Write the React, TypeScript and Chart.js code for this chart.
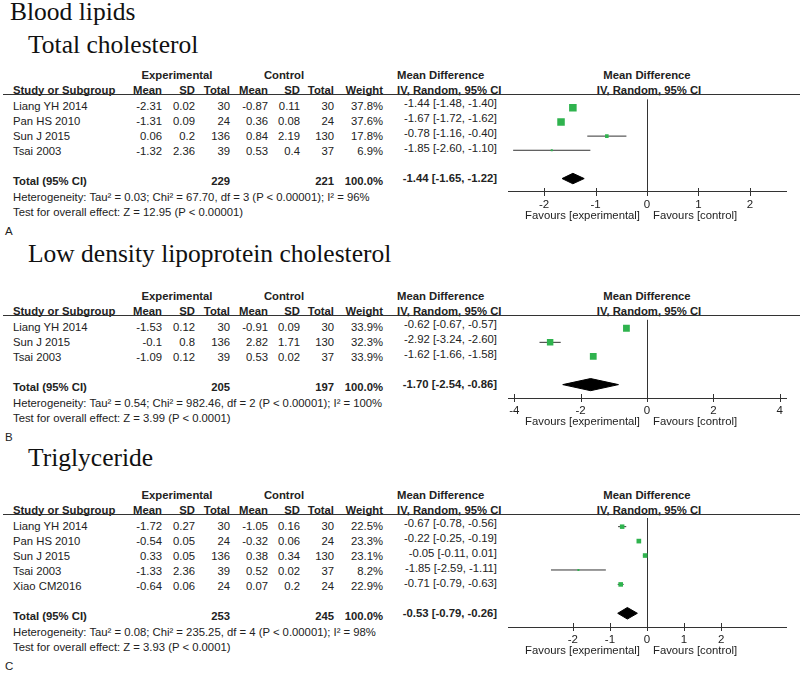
import React, { useEffect, useRef } from "react";
import { Chart, registerables } from "chart.js";

Chart.register(...registerables);

const SANS = "Arial, 'Liberation Sans', Helvetica, sans-serif";
const SERIF = "'Times New Roman', 'Liberation Serif', serif";
const GREEN = "#2fb34e";
const INK = "#222";
const LINE = "#333";

// ---------- Panel A: Total cholesterol ----------
const studiesTC = ["Liang YH 2014", "Pan HS 2010", "Sun J 2015", "Tsai 2003"];
const expMeanTC = [-2.31, -1.31, 0.06, -1.32];
const expSdTC = [0.02, 0.09, 0.2, 2.36];
const expNTC = [30, 24, 136, 39];
const ctlMeanTC = [-0.87, 0.36, 0.84, 0.53];
const ctlSdTC = [0.11, 0.08, 2.19, 0.4];
const ctlNTC = [30, 24, 130, 37];
const weightTC = [37.8, 37.6, 17.8, 6.9];
const mdTC = [-1.44, -1.67, -0.78, -1.85];
const loTC = [-1.48, -1.72, -1.16, -2.6];
const hiTC = [-1.4, -1.62, -0.4, -1.1];
const totalsTC = [229, 221];
const pooledTC = [-1.44, -1.65, -1.22];
const ticksTC = [-2, -1, 0, 1, 2];
const hetTC = "Heterogeneity: Tau² = 0.03; Chi² = 67.70, df = 3 (P < 0.00001); I² = 96%";
const testTC = "Test for overall effect: Z = 12.95 (P < 0.00001)";

// ---------- Panel B: LDL cholesterol ----------
const studiesLDL = ["Liang YH 2014", "Sun J 2015", "Tsai 2003"];
const expMeanLDL = [-1.53, -0.1, -1.09];
const expSdLDL = [0.12, 0.8, 0.12];
const expNLDL = [30, 136, 39];
const ctlMeanLDL = [-0.91, 2.82, 0.53];
const ctlSdLDL = [0.09, 1.71, 0.02];
const ctlNLDL = [30, 130, 37];
const weightLDL = [33.9, 32.3, 33.9];
const mdLDL = [-0.62, -2.92, -1.62];
const loLDL = [-0.67, -3.24, -1.66];
const hiLDL = [-0.57, -2.6, -1.58];
const totalsLDL = [205, 197];
const pooledLDL = [-1.7, -2.54, -0.86];
const ticksLDL = [-4, -2, 0, 2, 4];
const hetLDL = "Heterogeneity: Tau² = 0.54; Chi² = 982.46, df = 2 (P < 0.00001); I² = 100%";
const testLDL = "Test for overall effect: Z = 3.99 (P < 0.0001)";

// ---------- Panel C: Triglyceride ----------
const studiesTG = ["Liang YH 2014", "Pan HS 2010", "Sun J 2015", "Tsai 2003", "Xiao CM2016"];
const expMeanTG = [-1.72, -0.54, 0.33, -1.33, -0.64];
const expSdTG = [0.27, 0.05, 0.05, 2.36, 0.06];
const expNTG = [30, 24, 136, 39, 24];
const ctlMeanTG = [-1.05, -0.32, 0.38, 0.52, 0.07];
const ctlSdTG = [0.16, 0.06, 0.34, 0.02, 0.2];
const ctlNTG = [30, 24, 130, 37, 24];
const weightTG = [22.5, 23.3, 23.1, 8.2, 22.9];
const mdTG = [-0.67, -0.22, -0.05, -1.85, -0.71];
const loTG = [-0.78, -0.25, -0.11, -2.59, -0.79];
const hiTG = [-0.56, -0.19, 0.01, -1.11, -0.63];
const totalsTG = [253, 245];
const pooledTG = [-0.53, -0.79, -0.26];
const ticksTG = [-2, -1, 0, 1, 2];
const hetTG = "Heterogeneity: Tau² = 0.08; Chi² = 235.25, df = 4 (P < 0.00001); I² = 98%";
const testTG = "Test for overall effect: Z = 3.93 (P < 0.0001)";

const colHeaders = ["Mean", "SD", "Total", "Mean", "SD", "Total", "Weight"];
const favLeft = "Favours [experimental]";
const favRight = "Favours [control]";

type Panel = {
  title: string;
  label: string;
  studies: string[];
  cols: number[][];
  weight: number[];
  md: number[];
  lo: number[];
  hi: number[];
  totals: number[];
  pooled: number[];
  ticks: number[];
  het: string;
  test: string;
  // layout / style
  headerY: number;
  titleBase: number;
  range: number;
  diamondHalf: number;
};

const panels: Panel[] = [
  {
    title: "Total cholesterol", label: "A", studies: studiesTC,
    cols: [expMeanTC, expSdTC, expNTC, ctlMeanTC, ctlSdTC, ctlNTC],
    weight: weightTC, md: mdTC, lo: loTC, hi: hiTC, totals: totalsTC, pooled: pooledTC,
    ticks: ticksTC, het: hetTC, test: testTC,
    headerY: 94, titleBase: 54, range: 2.7, diamondHalf: 0.37,
  },
  {
    title: "Low density lipoprotein cholesterol", label: "B", studies: studiesLDL,
    cols: [expMeanLDL, expSdLDL, expNLDL, ctlMeanLDL, ctlSdLDL, ctlNLDL],
    weight: weightLDL, md: mdLDL, lo: loLDL, hi: hiLDL, totals: totalsLDL, pooled: pooledLDL,
    ticks: ticksLDL, het: hetLDL, test: testLDL,
    headerY: 315, titleBase: 263, range: 4.19, diamondHalf: 0.43,
  },
  {
    title: "Triglyceride", label: "C", studies: studiesTG,
    cols: [expMeanTG, expSdTG, expNTG, ctlMeanTG, ctlSdTG, ctlNTG],
    weight: weightTG, md: mdTG, lo: loTG, hi: hiTG, totals: totalsTG, pooled: pooledTG,
    ticks: ticksTG, het: hetTG, test: testTG,
    headerY: 514, titleBase: 467, range: 3.75, diamondHalf: 0.4,
  },
];

const ROW = 15;
const AXIS_H = 34;
const COL_RIGHT = [162, 195, 230, 268, 300, 334, 383];
const FS = 11.3;

function T(props: { x: number; y: number; align?: "left" | "right" | "center"; bold?: boolean; size?: number; children: React.ReactNode }) {
  const { x, y, align = "left", bold = false, size = FS, children } = props;
  const tx = align === "left" ? "0" : align === "right" ? "-100%" : "-50%";
  return (
    <div
      style={{
        position: "absolute", left: x, top: y, transform: `translate(${tx}, -50%)`,
        whiteSpace: "nowrap", fontFamily: SANS, fontSize: size, lineHeight: "14px",
        fontWeight: bold ? 700 : 400, color: INK,
      }}
    >
      {children}
    </div>
  );
}

function fmtCI(m: number, l: number, h: number) {
  return `${m.toFixed(2)} [${l.toFixed(2)}, ${h.toFixed(2)}]`;
}

function ForestPanel({ p }: { p: Panel }) {
  const ref = useRef<HTMLCanvasElement>(null);
  const n = p.studies.length;
  const H = p.headerY;
  const areaH = (n + 2.55) * ROW;
  const canvasH = Math.round(areaH + AXIS_H);
  const rowYRight = (i: number) => H + (i - 0.4) * ROW; // i is 1-based row
  const rowYLeft = (i: number) => rowYRight(i) + 3;
  const totalRow = n + 2;
  const hetY = rowYLeft(totalRow) + 15.5;
  const testY = hetY + 15.5;

  useEffect(() => {
    if (!ref.current) return;
    const datasets: any[] = [];
    datasets.push({
      type: "scatter",
      data: p.md.map((m, i) => ({ x: m, y: i + 1 })),
      pointStyle: "rect",
      pointRadius: (c: any) => Math.max(2, 0.2 * p.weight[c.dataIndex]) / Math.SQRT2,
      backgroundColor: GREEN,
      borderColor: GREEN,
      pointBorderWidth: 0,
      borderWidth: 0,
      showLine: false,
      order: 0,
    });
    p.lo.forEach((l, i) => {
      datasets.push({
        type: "scatter",
        data: [{ x: l, y: i + 1 }, { x: p.hi[i], y: i + 1 }],
        showLine: true,
        borderColor: LINE,
        borderWidth: 1,
        pointRadius: 0,
        fill: false,
        order: 1,
      });
    });
    const [pm, pl, ph] = p.pooled;
    const dh = p.diamondHalf;
    datasets.push({
      type: "scatter",
      data: [
        { x: pl, y: totalRow }, { x: pm, y: totalRow - dh }, { x: ph, y: totalRow },
        { x: pm, y: totalRow + dh }, { x: pl, y: totalRow },
      ],
      showLine: true,
      fill: "shape",
      backgroundColor: "#000",
      borderColor: "#000",
      borderWidth: 1,
      pointRadius: 0,
      tension: 0,
      order: 2,
    });

    const deco = {
      id: "forestDeco",
      afterDraw(chart: any) {
        const s = chart.scales.x;
        const ctx = chart.ctx;
        const y = chart.chartArea.bottom;
        ctx.save();
        ctx.strokeStyle = LINE;
        ctx.lineWidth = 1;
        for (const t of s.ticks) {
          const x = Math.round(s.getPixelForValue(t.value)) + 0.5;
          ctx.beginPath();
          ctx.moveTo(x, y - 4);
          ctx.lineTo(x, y + 4);
          ctx.stroke();
        }
        const x0 = s.getPixelForValue(0);
        ctx.fillStyle = INK;
        ctx.font = `${FS}px ${SANS}`;
        ctx.textBaseline = "middle";
        ctx.textAlign = "right";
        ctx.fillText(favLeft, x0 - 7, y + 24);
        ctx.textAlign = "left";
        ctx.fillText(favRight, x0 + 6, y + 24);
        ctx.restore();
      },
    };

    const chart = new Chart(ref.current, {
      type: "scatter",
      data: { datasets },
      options: {
        animation: false,
        responsive: false,
        maintainAspectRatio: false,
        events: [],
        layout: { padding: { left: 8, right: 14, top: 0, bottom: 0 } },
        plugins: { legend: { display: false }, tooltip: { enabled: false } },
        scales: {
          x: {
            type: "linear",
            min: -p.range,
            max: p.range,
            afterBuildTicks: (s: any) => {
              s.ticks = p.ticks.map((v) => ({ value: v }));
            },
            afterFit: (s: any) => {
              s.height = AXIS_H;
            },
            grid: {
              drawTicks: false,
              lineWidth: 1,
              color: (c: any) => (c.tick && c.tick.value === 0 ? LINE : "rgba(0,0,0,0)"),
            },
            border: { display: true, color: LINE, width: 1 },
            ticks: {
              padding: 6,
              autoSkip: false,
              maxRotation: 0,
              color: INK,
              font: { family: SANS, size: 11.5 },
              callback: (v: any) => String(v),
            },
          },
          y: { type: "linear", display: false, reverse: true, min: 0.4, max: n + 2.95 },
        },
      } as any,
      plugins: [deco],
    });
    return () => chart.destroy();
  }, []);

  const zeroX = 647;
  return (
    <>
      <div
        style={{
          position: "absolute", left: 28, top: p.titleBase - 23.6, fontFamily: SERIF,
          fontSize: 25.5, lineHeight: "30px", color: "#111", whiteSpace: "nowrap",
        }}
      >
        {p.title}
      </div>
      {/* header row 1 */}
      <T x={177} y={H - 19} align="center" bold>Experimental</T>
      <T x={284} y={H - 19} align="center" bold>Control</T>
      <T x={397} y={H - 19} bold>Mean Difference</T>
      <T x={zeroX} y={H - 19} align="center" bold>Mean Difference</T>
      {/* header row 2 */}
      <T x={13} y={H - 4.5} bold>Study or Subgroup</T>
      {colHeaders.map((h, j) => (
        <T key={"h" + j} x={COL_RIGHT[j]} y={H - 4.5} align="right" bold>{h}</T>
      ))}
      <T x={397} y={H - 4.5} bold>IV, Random, 95% CI</T>
      <T x={zeroX + 2} y={H - 4.5} align="center" bold>IV, Random, 95% CI</T>
      <div style={{ position: "absolute", left: 3, width: 797, top: H, height: 1, background: LINE }} />
      {/* study rows */}
      {p.studies.map((s, i) => (
        <React.Fragment key={s}>
          <T x={13} y={rowYLeft(i + 1)}>{s}</T>
          {p.cols.map((col, j) => (
            <T key={j} x={COL_RIGHT[j]} y={rowYLeft(i + 1)} align="right">{String(col[i])}</T>
          ))}
          <T x={COL_RIGHT[6]} y={rowYLeft(i + 1)} align="right">{p.weight[i].toFixed(1) + "%"}</T>
          <T x={497} y={rowYRight(i + 1)} align="right">{fmtCI(p.md[i], p.lo[i], p.hi[i])}</T>
        </React.Fragment>
      ))}
      {/* total row */}
      <T x={13} y={rowYLeft(totalRow)} bold>Total (95% CI)</T>
      <T x={COL_RIGHT[2]} y={rowYLeft(totalRow)} align="right" bold>{String(p.totals[0])}</T>
      <T x={COL_RIGHT[5]} y={rowYLeft(totalRow)} align="right" bold>{String(p.totals[1])}</T>
      <T x={COL_RIGHT[6]} y={rowYLeft(totalRow)} align="right" bold>100.0%</T>
      <T x={497} y={rowYRight(totalRow)} align="right" bold>{fmtCI(p.pooled[0], p.pooled[1], p.pooled[2])}</T>
      <T x={13} y={hetY}>{p.het}</T>
      <T x={13} y={testY}>{p.test}</T>
      <T x={5} y={H + areaH + 39} size={11.5}>{p.label}</T>
      <canvas
        ref={ref}
        width={300}
        height={canvasH}
        style={{ position: "absolute", left: 500, top: H, width: 300, height: canvasH }}
      />
    </>
  );
}

export default function App() {
  return (
    <div
      style={{
        position: "absolute", left: 0, top: 0, width: 800, height: 679,
        background: "#fff", overflow: "hidden",
      }}
    >
      <div
        style={{
          position: "absolute", left: 10, top: 21 - 23.6, fontFamily: SERIF,
          fontSize: 25.5, lineHeight: "30px", color: "#111", whiteSpace: "nowrap",
        }}
      >
        Blood lipids
      </div>
      {panels.map((p) => (
        <ForestPanel key={p.label} p={p} />
      ))}
    </div>
  );
}
